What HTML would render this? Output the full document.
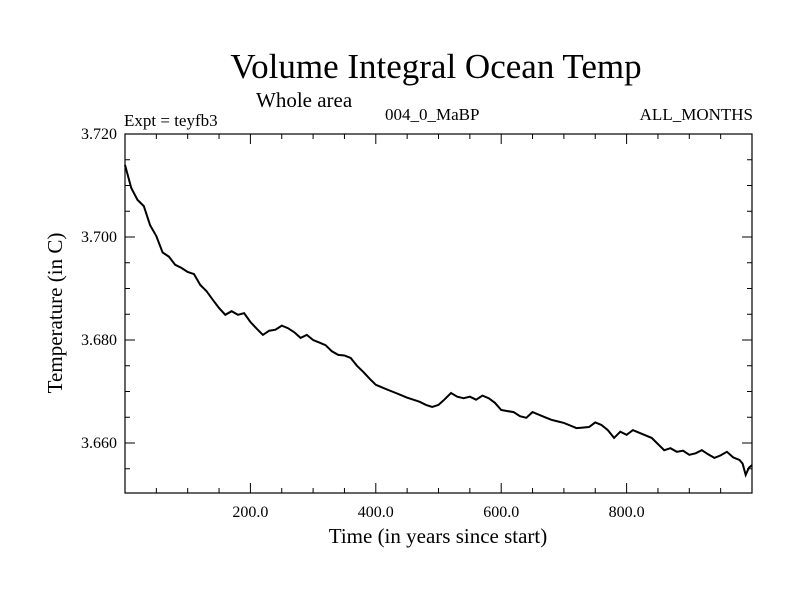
<!DOCTYPE html>
<html><head><meta charset="utf-8"><style>
body{margin:0;background:#fff;}
svg{display:block;font-family:"Liberation Serif",serif;}
</style></head><body>
<svg id="chart" width="800" height="600">
<text x="436" y="78" font-size="35" text-anchor="middle">Volume Integral Ocean Temp</text>
<text x="256" y="107" font-size="21">Whole area</text>
<text x="124" y="126" font-size="17">Expt = teyfb3</text>
<text x="385" y="120" font-size="17">004_0_MaBP</text>
<text x="753" y="120" font-size="17" text-anchor="end">ALL_MONTHS</text>
<text x="438" y="543" font-size="21" text-anchor="middle">Time (in years since start)</text>
<text x="0" y="0" font-size="21" text-anchor="middle" transform="translate(62,313) rotate(-90)">Temperature (in C)</text>
<g id="axes"></g>
<path id="line" fill="none" stroke="#000" stroke-width="2"/>
</svg>
<script>
const xValues = [0,10,20,30,40,50,60,70,80,90,100,110,120,130,140,150,160,170,180,190,200,210,220,230,240,250,260,270,280,290,300,310,320,330,340,350,360,370,380,390,400,410,420,430,440,450,460,470,480,490,500,510,520,530,540,550,560,570,580,590,600,610,620,630,640,650,660,670,680,690,700,710,720,730,740,750,760,770,780,790,800,810,820,830,840,850,860,870,880,890,900,910,920,930,940,950,960,970,980,985,990,995,1000];
const tempValues = [3.7140,3.7095,3.7072,3.7060,3.7023,3.7002,3.6970,3.6962,3.6946,3.6940,3.6932,3.6928,3.6907,3.6895,3.6878,3.6862,3.6849,3.6856,3.6849,3.6852,3.6835,3.6822,3.6810,3.6818,3.6820,3.6828,3.6823,3.6815,3.6804,3.6810,3.6800,3.6795,3.6790,3.6778,3.6771,3.6770,3.6765,3.6750,3.6738,3.6725,3.6713,3.6708,3.6703,3.6698,3.6693,3.6688,3.6684,3.6680,3.6674,3.6670,3.6674,3.6685,3.6697,3.6690,3.6687,3.6690,3.6684,3.6692,3.6687,3.6678,3.6664,3.6662,3.6660,3.6652,3.6649,3.6660,3.6655,3.6650,3.6645,3.6642,3.6639,3.6634,3.6629,3.6630,3.6631,3.6640,3.6635,3.6625,3.6610,3.6622,3.6616,3.6625,3.6620,3.6615,3.6610,3.6598,3.6586,3.6590,3.6583,3.6585,3.6577,3.6580,3.6586,3.6578,3.6571,3.6576,3.6583,3.6572,3.6567,3.6560,3.6538,3.6552,3.6557];
const yTicks = [3.660,3.680,3.700,3.720];
const xTicks = [200,400,600,800];
const X0=125,X1=752,Y0=134,Y1=493, xMin=0,xMax=1000,yMax=3.720,yMin=3.720-0.020*(Y1-Y0)/103;
const sx=v=>X0+(v-xMin)/(xMax-xMin)*(X1-X0);
const sy=v=>Y0+(yMax-v)/(yMax-yMin)*(Y1-Y0);
const NS='http://www.w3.org/2000/svg', g=document.getElementById('axes');
function mk(t,a){const e=document.createElementNS(NS,t);for(const k in a)e.setAttribute(k,a[k]);g.appendChild(e);return e;}
const frame=mk('rect',{x:X0,y:Y0,width:X1-X0,height:Y1-Y0,fill:'none',stroke:'#000','stroke-width':1.2});


for(let v=50;v<1000;v+=50){const major=v%200===0;const L=major?10:5;const x=sx(v);
 const t1=mk('line',{x1:x,x2:x,y1:Y1,y2:Y1-L,stroke:'#000'});
 
 
 const t2=mk('line',{x1:x,x2:x,y1:Y0,y2:Y0+L,stroke:'#000'});
 
 }
xTicks.forEach(v=>{const t=mk('text',{x:sx(v),y:Y1+24,'font-size':16,'text-anchor':'middle'});t.textContent=v.toFixed(1);
 
 });
for(let i=0;i<=20;i++){const v=3.720-i*0.005;if(v<yMin)break;const major=i%4===0;const L=major?10:5;const y=sy(v);
 const t1=mk('line',{x1:X0,x2:X0+L,y1:y,y2:y,stroke:'#000'});
 
 
 const t2=mk('line',{x1:X1,x2:X1-L,y1:y,y2:y,stroke:'#000'});
 
 }
yTicks.forEach(v=>{const t=mk('text',{x:X0-8,y:sy(v)+5,'font-size':16,'text-anchor':'end'});t.textContent=v.toFixed(3);
 
 });
document.getElementById('line').setAttribute('d',xValues.map((x,i)=>(i?'L':'M')+sx(x).toFixed(1)+','+sy(tempValues[i]).toFixed(1)).join(''));
</script>
</body></html>
